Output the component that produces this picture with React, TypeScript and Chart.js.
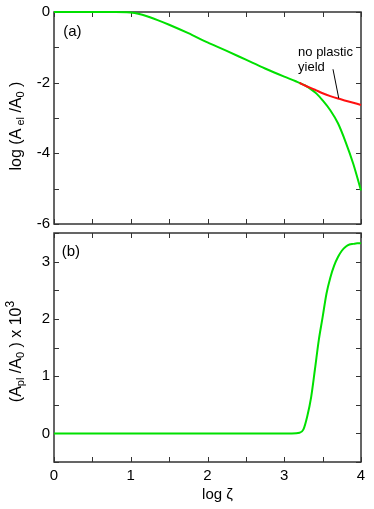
import React, { useEffect, useRef } from 'react';
import { Chart, registerables } from 'chart.js';

Chart.register(...registerables);

// ---- data (log zeta on x) ----
const topGreenX = [0, 0.5, 0.8, 0.95, 1.05, 1.15, 1.25, 1.35, 1.5, 1.75, 2.0, 2.25, 2.5, 2.75, 3.0, 3.15, 3.27, 3.35, 3.42, 3.5, 3.6, 3.7, 3.8, 3.9, 4.0];
const topGreenY = [0, 0, 0, -0.005, -0.03, -0.08, -0.15, -0.23, -0.36, -0.6, -0.86, -1.1, -1.35, -1.6, -1.83, -1.96, -2.08, -2.19, -2.31, -2.5, -2.78, -3.15, -3.68, -4.3, -5.05];
const topRedX = [3.2, 3.27, 3.4, 3.5, 3.6, 3.7, 3.8, 3.9, 4.0];
const topRedY = [-2.01, -2.08, -2.2, -2.3, -2.38, -2.45, -2.51, -2.57, -2.63];
const bottomX = [0, 1, 2, 3, 3.1, 3.2, 3.25, 3.3, 3.35, 3.4, 3.45, 3.5, 3.55, 3.6, 3.65, 3.7, 3.75, 3.8, 3.85, 3.9, 3.95, 4.0];
const bottomY = [0, 0, 0, 0, 0, 0.01, 0.07, 0.3, 0.63, 1.12, 1.63, 2.03, 2.44, 2.72, 2.93, 3.08, 3.19, 3.26, 3.3, 3.31, 3.32, 3.32];

const xTickLabels = ['0', '1', '2', '3', '4'];
const topYTickLabels = ['0', '-2', '-4', '-6'];
const bottomYTickLabels = ['0', '1', '2', '3'];

const FONT = "'Liberation Sans', Arial, Helvetica, sans-serif";
const GREEN = '#00e000';
const RED = '#ff1010';
const FRAME = '#333333';

type Seg = { t: string; size: number; dy: number };

const topTitle: Seg[] = [
  { t: 'log (A', size: 16, dy: 0 },
  { t: ' el', size: 11, dy: 3 },
  { t: ' /A', size: 16, dy: 0 },
  { t: '0', size: 11, dy: 3 },
  { t: ' )', size: 16, dy: 0 },
];
const bottomTitle: Seg[] = [
  { t: '(A', size: 16, dy: 0 },
  { t: 'pl', size: 11, dy: 3 },
  { t: ' /A', size: 16, dy: 0 },
  { t: '0', size: 11, dy: 3 },
  { t: ' ) x 10', size: 16, dy: 0 },
  { t: '3', size: 12, dy: -7 },
];

function pts(xs: number[], ys: number[]) {
  return xs.map((x, i) => ({ x, y: ys[i] }));
}

function drawRich(ctx: CanvasRenderingContext2D, segs: Seg[], cx: number, cy: number) {
  ctx.save();
  ctx.translate(cx, cy);
  ctx.rotate(-Math.PI / 2);
  let total = 0;
  const widths = segs.map((s) => {
    ctx.font = `${s.size}px ${FONT}`;
    const w = ctx.measureText(s.t).width;
    total += w;
    return w;
  });
  let x = -total / 2;
  ctx.fillStyle = '#000';
  ctx.textBaseline = 'alphabetic';
  ctx.textAlign = 'left';
  segs.forEach((s, i) => {
    ctx.font = `${s.size}px ${FONT}`;
    ctx.fillText(s.t, x, 5 + s.dy);
    x += widths[i];
  });
  ctx.restore();
}

function makeFramePlugin(opts: {
  title: Seg[];
  titleX: number;
  titleDy: number;
  panel: string;
  panelPos: [number, number];
  extra?: (chart: any) => void;
}) {
  return {
    id: 'frameTicks',
    beforeDatasetsDraw(chart: any) {
      const { ctx, chartArea: a, scales } = chart;
      ctx.save();
      ctx.strokeStyle = FRAME;
      ctx.lineWidth = 1.5;
      ctx.strokeRect(a.left, a.top, a.right - a.left, a.bottom - a.top);
      ctx.lineWidth = 1;
      const tl = 5;
      ctx.beginPath();
      scales.x.ticks.forEach((t: any) => {
        const px = Math.round(scales.x.getPixelForValue(t.value)) + 0.5;
        ctx.moveTo(px, a.bottom);
        ctx.lineTo(px, a.bottom - tl);
        ctx.moveTo(px, a.top);
        ctx.lineTo(px, a.top + tl);
      });
      scales.y.ticks.forEach((t: any) => {
        const py = Math.round(scales.y.getPixelForValue(t.value)) + 0.5;
        ctx.moveTo(a.left, py);
        ctx.lineTo(a.left + tl, py);
        ctx.moveTo(a.right, py);
        ctx.lineTo(a.right - tl, py);
      });
      ctx.stroke();
      ctx.restore();
    },
    afterDatasetsDraw(chart: any) {
      const { ctx, chartArea: a, scales } = chart;
      drawRich(ctx, opts.title, opts.titleX, (a.top + a.bottom) / 2 + opts.titleDy);
      ctx.save();
      ctx.fillStyle = '#000';
      ctx.font = `15px ${FONT}`;
      ctx.textBaseline = 'middle';
      ctx.textAlign = 'left';
      ctx.fillText(
        opts.panel,
        scales.x.getPixelForValue(opts.panelPos[0]),
        scales.y.getPixelForValue(opts.panelPos[1])
      );
      ctx.restore();
      if (opts.extra) opts.extra(chart);
    },
  };
}

function labelCb(labels: string[]) {
  return (v: any) => {
    const s = String(Math.round(Number(v) * 1000) / 1000);
    return labels.includes(s) ? s : '';
  };
}

function noPad(s: any) {
  s.paddingTop = 0;
  s.paddingBottom = 0;
  s.paddingLeft = 0;
  s.paddingRight = 0;
}

export default function App() {
  const topRef = useRef<HTMLCanvasElement | null>(null);
  const botRef = useRef<HTMLCanvasElement | null>(null);

  useEffect(() => {
    const tickFont = { family: FONT, size: 15 };

    const topChart = new Chart(topRef.current as HTMLCanvasElement, {
      type: 'line',
      data: {
        datasets: [
          {
            data: pts(topRedX, topRedY),
            borderColor: RED,
            borderWidth: 2,
            pointRadius: 0,
            cubicInterpolationMode: 'monotone',
            clip: false as any,
          },
          {
            data: pts(topGreenX, topGreenY),
            borderColor: GREEN,
            borderWidth: 2,
            pointRadius: 0,
            cubicInterpolationMode: 'monotone',
            clip: false as any,
          },
        ],
      },
      options: {
        animation: false,
        responsive: false,
        devicePixelRatio: 1,
        layout: { padding: { top: 12, right: 13, left: 0, bottom: 0 } },
        plugins: { legend: { display: false }, tooltip: { enabled: false } },
        scales: {
          x: {
            type: 'linear',
            min: 0,
            max: 4,
            ticks: { stepSize: 0.5, display: false },
            grid: { display: false, drawTicks: false },
            border: { display: false },
            afterFit: (s: any) => {
              s.height = 6;
              noPad(s);
            },
          },
          y: {
            type: 'linear',
            min: -6,
            max: 0,
            ticks: {
              stepSize: 1,
              padding: 4,
              color: '#000',
              font: tickFont,
              callback: labelCb(topYTickLabels),
            },
            grid: { display: false, drawTicks: false },
            border: { display: false },
            afterFit: (s: any) => {
              s.width = 54;
              noPad(s);
            },
          },
        },
      },
      plugins: [
        makeFramePlugin({
          title: topTitle,
          titleX: 16,
          titleDy: 8,
          panel: '(a)',
          panelPos: [0.12, -0.55],
          extra: (chart: any) => {
            const { ctx, scales } = chart;
            const X = scales.x;
            const Y = scales.y;
            ctx.save();
            ctx.fillStyle = '#000';
            ctx.font = `13px ${FONT}`;
            ctx.textBaseline = 'middle';
            ctx.textAlign = 'left';
            ctx.fillText('no plastic', X.getPixelForValue(3.18), Y.getPixelForValue(-1.14));
            ctx.fillText('yield', X.getPixelForValue(3.18), Y.getPixelForValue(-1.57));
            ctx.strokeStyle = '#000';
            ctx.lineWidth = 1;
            ctx.beginPath();
            ctx.moveTo(X.getPixelForValue(3.635), Y.getPixelForValue(-1.62));
            ctx.lineTo(X.getPixelForValue(3.71), Y.getPixelForValue(-2.44));
            ctx.stroke();
            ctx.restore();
          },
        }),
      ],
    } as any);

    const botChart = new Chart(botRef.current as HTMLCanvasElement, {
      type: 'line',
      data: {
        datasets: [
          {
            data: pts(bottomX, bottomY),
            borderColor: GREEN,
            borderWidth: 2,
            pointRadius: 0,
            cubicInterpolationMode: 'monotone',
            clip: false as any,
          },
        ],
      },
      options: {
        animation: false,
        responsive: false,
        devicePixelRatio: 1,
        layout: { padding: { top: 5, right: 13, left: 0, bottom: 0 } },
        plugins: { legend: { display: false }, tooltip: { enabled: false } },
        scales: {
          x: {
            type: 'linear',
            min: 0,
            max: 4,
            ticks: {
              stepSize: 0.5,
              padding: 5,
              maxRotation: 0,
              autoSkip: false,
              color: '#000',
              font: tickFont,
              callback: labelCb(xTickLabels),
            },
            grid: { display: false, drawTicks: false },
            border: { display: false },
            afterFit: (s: any) => {
              s.height = 47;
              noPad(s);
            },
          },
          y: {
            type: 'linear',
            min: -0.5,
            max: 3.5,
            ticks: {
              stepSize: 0.5,
              padding: 4,
              color: '#000',
              font: tickFont,
              callback: labelCb(bottomYTickLabels),
            },
            grid: { display: false, drawTicks: false },
            border: { display: false },
            afterFit: (s: any) => {
              s.width = 54;
              noPad(s);
            },
          },
        },
      },
      plugins: [
        makeFramePlugin({
          title: bottomTitle,
          titleX: 16,
          titleDy: 4,
          panel: '(b)',
          panelPos: [0.1, 3.17],
          extra: (chart: any) => {
            const { ctx, chartArea: a } = chart;
            ctx.save();
            ctx.fillStyle = '#000';
            ctx.font = `15px ${FONT}`;
            ctx.textBaseline = 'middle';
            ctx.textAlign = 'center';
            ctx.fillText('log ζ', (a.left + a.right) / 2 + 10, a.bottom + 33);
            ctx.restore();
          },
        }),
      ],
    } as any);

    return () => {
      topChart.destroy();
      botChart.destroy();
    };
  }, []);

  return (
    <div style={{ position: 'fixed', left: 0, top: 0, width: 374, height: 509, background: '#fff' }}>
      <canvas ref={topRef} width={374} height={230} style={{ position: 'absolute', left: 0, top: 0 }} />
      <canvas ref={botRef} width={374} height={281} style={{ position: 'absolute', left: 0, top: 228 }} />
    </div>
  );
}
